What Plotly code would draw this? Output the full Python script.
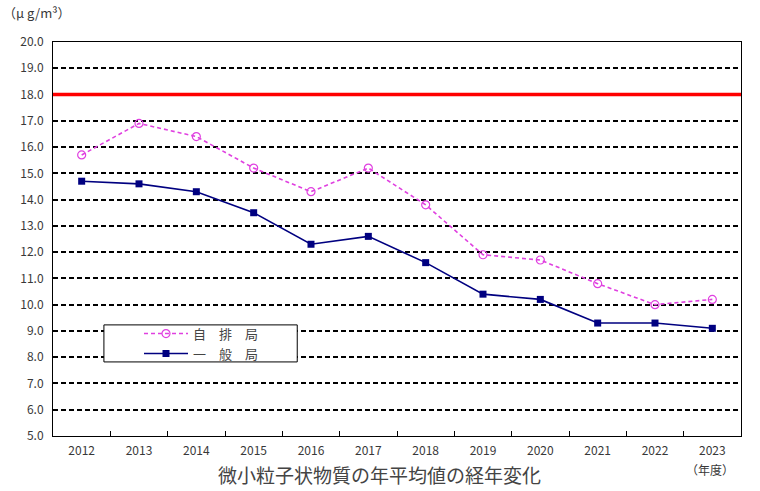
import plotly.graph_objects as go

years = ["2012", "2013", "2014", "2015", "2016", "2017", "2018", "2019", "2020", "2021", "2022", "2023"]
jihaikyoku = [15.7, 16.9, 16.4, 15.2, 14.3, 15.2, 13.8, 11.9, 11.7, 10.8, 10.0, 10.2]
ippankyoku = [14.7, 14.6, 14.3, 13.5, 12.3, 12.6, 11.6, 10.4, 10.2, 9.3, 9.3, 9.1]
standard_value = 18.0
y_ticks = [5.0 + i for i in range(16)]

FONT = "Noto Sans CJK JP"
TXT = "#383838"

fig = go.Figure()
fig.add_trace(go.Scatter(
    x=years, y=jihaikyoku, name="自　排　局", mode="lines+markers",
    line=dict(color="#E040E0", width=1.6, dash="4px,3px"),
    marker=dict(symbol="circle-open", size=8, color="#E040E0", line=dict(width=1.2)),
))
fig.add_trace(go.Scatter(
    x=years, y=ippankyoku, name="一　般　局", mode="lines+markers",
    line=dict(color="#000080", width=1.6),
    marker=dict(symbol="square", size=7, color="#000080"),
))

# environmental standard line
fig.add_shape(type="line", xref="paper", yref="y", x0=0, x1=1,
              y0=standard_value, y1=standard_value,
              line=dict(color="#FF0000", width=3.5))

# legend box
fig.add_shape(type="rect", xref="paper", yref="paper", layer="above",
              x0=0.074, x1=0.355, y0=0.188, y1=0.282,
              line=dict(color="#000000", width=1), fillcolor="#FFFFFF")

fig.update_layout(
    width=760, height=491,
    margin=dict(l=53, r=19, t=42, b=55),
    paper_bgcolor="#FFFFFF", plot_bgcolor="#FFFFFF",
    font=dict(family=FONT, size=12, color=TXT),
    showlegend=True,
    legend=dict(x=0.125, y=0.298, xanchor="left", yanchor="top",
                bgcolor="rgba(0,0,0,0)", borderwidth=0,
                font=dict(family=FONT, size=13, color="#444444"),
                tracegroupgap=0, itemwidth=44),
    xaxis=dict(
        type="category", showgrid=False, showline=True, linecolor="#000000",
        linewidth=1, mirror=True, ticks="inside", tickson="boundaries",
        ticklen=5, tickcolor="#000000", ticklabelstandoff=4,
        tickfont=dict(family=FONT, size=12, color=TXT), range=[-0.5, 11.5],
    ),
    yaxis=dict(
        range=[5.0, 20.0], tickvals=y_ticks, tickformat=".1f",
        showgrid=True, gridcolor="#000000", gridwidth=1.5, griddash="5px,3px",
        showline=True, linecolor="#000000", linewidth=1, mirror=True,
        ticks="", zeroline=False, ticklabelstandoff=6,
        tickfont=dict(family=FONT, size=12, color=TXT),
    ),
    annotations=[
        dict(text="（μ g/m³）", xref="paper", yref="paper", x=-0.075, y=1.074,
             xanchor="left", yanchor="middle", showarrow=False,
             font=dict(family=FONT, size=13, color=TXT)),
        dict(text="（年度）", xref="paper", yref="paper", x=0.955, y=-0.084,
             xanchor="center", yanchor="middle", showarrow=False,
             font=dict(family=FONT, size=12, color=TXT)),
        dict(text="微小粒子状物質の年平均値の経年変化", xref="paper", yref="paper",
             x=0.475, y=-0.098, xanchor="center", yanchor="middle", showarrow=False,
             font=dict(family=FONT, size=19, color="#444444")),
    ],
)

fig.write_html("out.html")
